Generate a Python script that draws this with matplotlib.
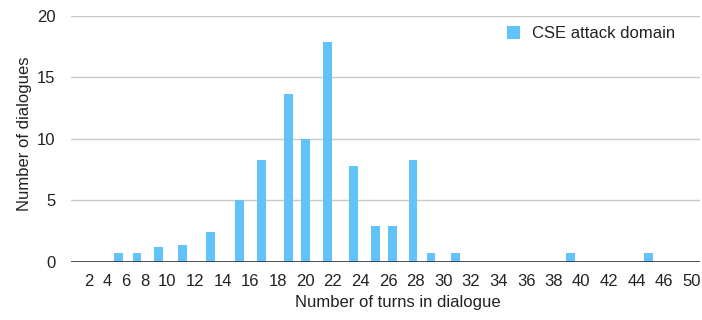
import numpy as np
import matplotlib
matplotlib.use('Agg')
import matplotlib.pyplot as plt
from matplotlib.patches import Patch

plt.rcParams['font.family'] = ['Liberation Sans', 'DejaVu Sans']

# turn values (bars sit between the axis labels)
turns = [5.2, 7.2, 9.2, 11.1, 13.1, 15.2, 16.8, 18.8, 20.0, 21.6,
         23.5, 25.1, 26.3, 27.8, 29.1, 30.9, 39.2, 44.9]
dialogues = [0.7, 0.7, 1.2, 1.4, 2.4, 5.0, 8.3, 13.6, 10.0, 17.9,
             7.8, 2.9, 2.9, 8.3, 0.7, 0.7, 0.7, 0.7]
tick_labels = [2, 4, 6, 8, 10, 12, 14, 16, 18, 20, 22, 24, 26, 28, 30,
               32, 34, 36, 38, 40, 42, 44, 46, 50]
series_name = 'CSE attack domain'
bar_color = '#62C3FA'
text_color = '#222222'
fs = 12


def label_slots(labels):
   '''
   Labels on this axis are packed like text: each one takes room
   according to its number of digits, so build slot centres from that
   '''
   widths = np.array([len(str(v)) + 1 for v in labels], dtype=float)
   steps = (widths[:-1] + widths[1:]) / 2
   return np.concatenate([[0.0], np.cumsum(steps)])


def to_slot(x, labels, centres):
   '''
   Map a turn value onto the packed label axis
   '''
   return np.interp(x, labels, centres)


centres = label_slots(tick_labels)
xpos = to_slot(turns, tick_labels, centres)

fig = plt.figure(figsize=(7.02, 3.2), dpi=100)
ax = fig.add_axes([0.101, 0.182, 0.896, 0.769])

ax.bar(xpos, dialogues, width=0.95, color=bar_color, zorder=3)

ax.set_xlim(centres[0] - 2.0, centres[-1] + 0.9)
ax.set_ylim(0, 20)
ax.set_yticks([0, 5, 10, 15, 20])
ax.set_xticks(centres)
ax.set_xticklabels([str(v) for v in tick_labels])

ax.yaxis.grid(True, color='#c9c9c9', linewidth=1.0, zorder=0)
ax.set_axisbelow(True)
for side in ['top', 'right', 'left', 'bottom']:
   ax.spines[side].set_visible(False)
ax.axhline(0, color='#333333', linewidth=1.2, zorder=4)

ax.tick_params(axis='both', length=0, labelsize=fs, colors=text_color)
ax.tick_params(axis='x', pad=9)
ax.tick_params(axis='y', pad=11)

ax.set_xlabel('Number of turns in dialogue', fontsize=fs, color=text_color)
ax.xaxis.set_label_coords(0.52, -0.137)
ax.set_ylabel('Number of dialogues', fontsize=fs, color=text_color)
ax.yaxis.set_label_coords(-0.062, 0.52)

handle = Patch(facecolor=bar_color, edgecolor='none')
ax.legend([handle], [series_name], loc='upper left',
          bbox_to_anchor=(0.693, 0.958), frameon=False, fontsize=fs,
          handlelength=0.8, handleheight=0.8, handletextpad=0.7,
          borderpad=0, borderaxespad=0, labelcolor=text_color)

plt.savefig('out.png', dpi=100)
